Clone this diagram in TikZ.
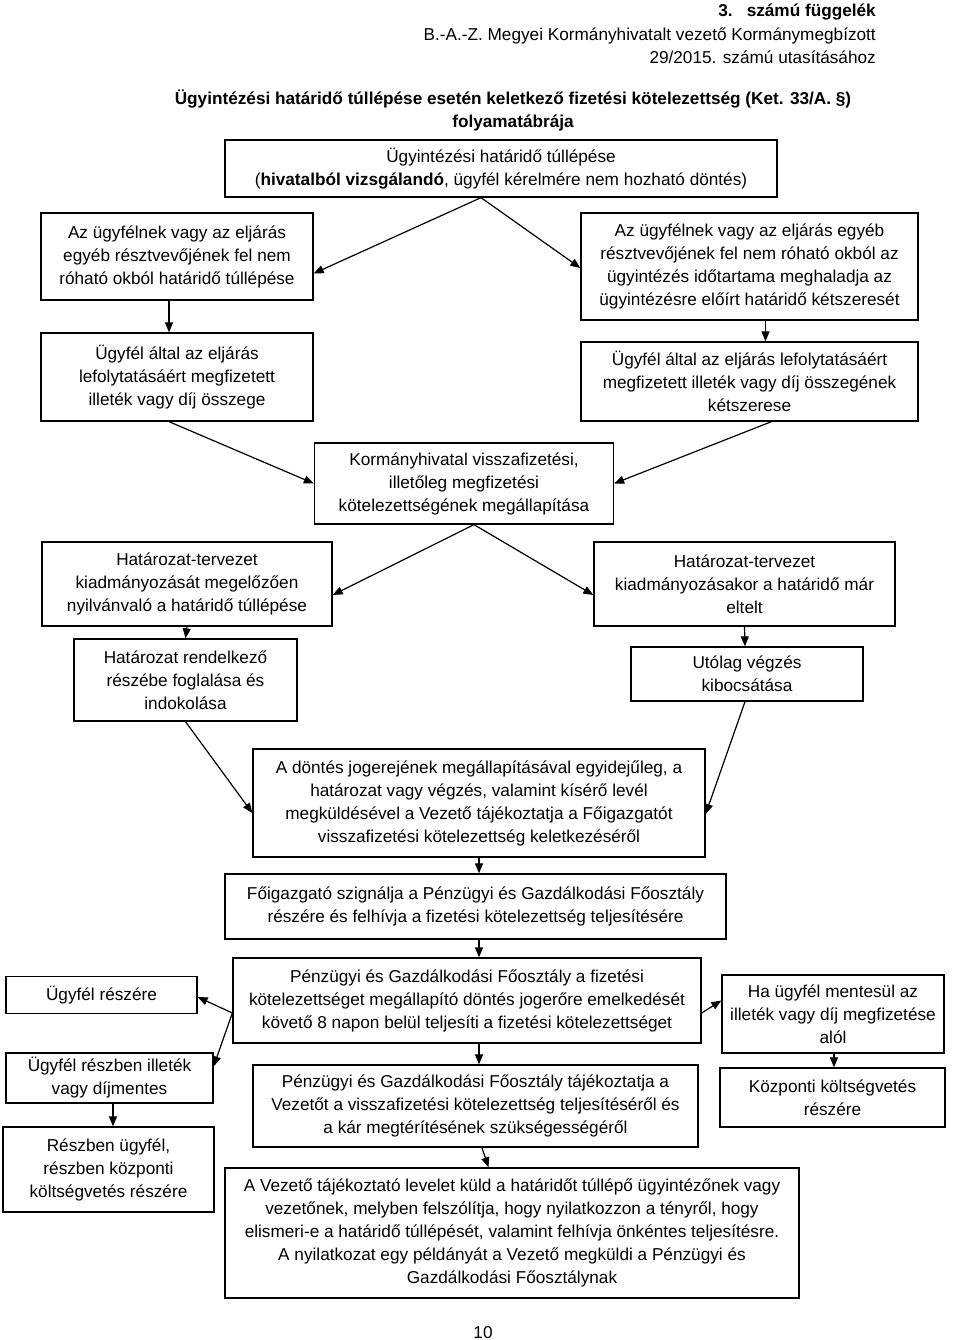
\documentclass[tikz,border=0pt]{standalone}
\usepackage{fontspec}
\setmainfont{Liberation Sans}
\usetikzlibrary{arrows.meta}
\begin{document}
\begin{tikzpicture}[x=1pt,y=-1pt,
  box/.style={draw=black,line width=1.3pt,rectangle,align=center,inner sep=0pt,
    font=\fontsize{17.2}{23}\selectfont},
  conn/.style={line width=1.2pt,-{Triangle[length=10pt,width=8pt]}},
  hdr/.style={inner sep=0pt,font=\fontsize{17.2}{23}\selectfont}]
\useasboundingbox (0,0) rectangle (960,1340);
% header
\node[hdr,anchor=base east,font=\fontsize{17.2}{23}\selectfont\bfseries] (h1) at (876,17) {3.\hspace{14pt}számú függelék};
\node[hdr,anchor=base east] (h2) at (876,41) {B.-A.-Z. Megyei Kormányhivatalt vezető Kormánymegbízott};
\node[hdr,anchor=base east] (h3) at (876,64) {29/2015. számú utasításához};
\node[hdr,anchor=base,font=\fontsize{17.2}{23}\selectfont\bfseries] (t1) at (513,105) {Ügyintézési határidő túllépése esetén keletkező fizetési kötelezettség (Ket. 33/A. §)};
\node[hdr,anchor=base,font=\fontsize{17.2}{23}\selectfont\bfseries] (t2) at (513,128) {folyamatábrája};
% boxes
\node[box,minimum width=552pt,minimum height=57pt] (T) at (501,168.5) {Ügyintézési határidő túllépése\\(\textbf{hivatalból vizsgálandó}, ügyfél kérelmére nem hozható döntés)};
\node[box,minimum width=272pt,minimum height=87pt] (L1) at (177,256.5) {Az ügyfélnek vagy az eljárás\\egyéb résztvevőjének fel nem\\róható okból határidő túllépése};
\node[box,minimum width=337pt,minimum height=107pt] (R1) at (749.5,266.5) {Az ügyfélnek vagy az eljárás egyéb\\résztvevőjének fel nem róható okból az\\ügyintézés időtartama meghaladja az\\ügyintézésre előírt határidő kétszeresét};
\node[box,minimum width=272pt,minimum height=88pt] (L2) at (177,377) {Ügyfél által az eljárás\\lefolytatásáért megfizetett\\illeték vagy díj összege};
\node[box,minimum width=337pt,minimum height=79pt] (R2) at (749.5,381.5) {Ügyfél által az eljárás lefolytatásáért\\megfizetett illeték vagy díj összegének\\kétszerese};
\node[box,minimum width=299pt,minimum height=81pt] (C) at (464,483.5) {Kormányhivatal visszafizetési,\\illetőleg megfizetési\\kötelezettségének megállapítása};
\node[box,minimum width=290pt,minimum height=84pt] (L3) at (187,584) {Határozat-tervezet\\kiadmányozását megelőzően\\nyilvánvaló a határidő túllépése};
\node[box,minimum width=301pt,minimum height=84pt] (R3) at (744.5,584) {Határozat-tervezet\\kiadmányozásakor a határidő már\\eltelt};
\node[box,minimum width=223pt,minimum height=82pt] (L4) at (185.5,680) {Határozat rendelkező\\részébe foglalása és\\indokolása};
\node[box,minimum width=232pt,minimum height=54pt] (R4) at (747,674) {Utólag végzés\\kibocsátása};
\node[box,minimum width=452pt,minimum height=108pt] (D) at (479,803) {A döntés jogerejének megállapításával egyidejűleg, a\\határozat vagy végzés, valamint kísérő levél\\megküldésével a Vezető tájékoztatja a Főigazgatót\\visszafizetési kötelezettség keletkezéséről};
\node[box,minimum width=501pt,minimum height=65pt] (E) at (475.5,906.5) {Főigazgató szignálja a Pénzügyi és Gazdálkodási Főosztály\\részére és felhívja a fizetési kötelezettség teljesítésére};
\node[box,minimum width=468pt,minimum height=85pt] (F) at (467,1000.5) {Pénzügyi és Gazdálkodási Főosztály a fizetési\\kötelezettséget megállapító döntés jogerőre emelkedését\\követő 8 napon belül teljesíti a fizetési kötelezettséget};
\node[box,minimum width=191pt,minimum height=37pt] (G1) at (101.5,995) {Ügyfél részére};
\node[box,minimum width=207pt,minimum height=50pt] (G2) at (109.5,1078) {Ügyfél részben illeték\\vagy díjmentes};
\node[box,minimum width=211pt,minimum height=85pt] (G3) at (108.5,1169.5) {Részben ügyfél,\\részben központi\\költségvetés részére};
\node[box,minimum width=222pt,minimum height=78pt] (H) at (833,1014) {Ha ügyfél mentesül az\\illeték vagy díj megfizetése\\alól};
\node[box,minimum width=225pt,minimum height=59pt] (I) at (832.5,1097.5) {Központi költségvetés\\részére};
\node[box,minimum width=445pt,minimum height=82pt] (J) at (475.5,1106) {Pénzügyi és Gazdálkodási Főosztály tájékoztatja a\\Vezetőt a visszafizetési kötelezettség teljesítéséről és\\a kár megtérítésének szükségességéről};
\node[box,minimum width=574pt,minimum height=130pt] (K) at (512,1233) {A Vezető tájékoztató levelet küld a határidőt túllépő ügyintézőnek vagy\\vezetőnek, melyben felszólítja, hogy nyilatkozzon a tényről, hogy\\elismeri-e a határidő túllépését, valamint felhívja önkéntes teljesítésre.\\A nyilatkozat egy példányát a Vezető megküldi a Pénzügyi és\\Gazdálkodási Főosztálynak};
\node[hdr] (pg) at (483,1333) {10};
% connectors
\coordinate (Tapex) at ([xshift=-20pt]T.south);
\draw[conn] (Tapex) -- ([yshift=-17pt]L1.east);
\draw[conn] (Tapex) -- ([yshift=-1.5pt]R1.west);
\draw[conn] ([xshift=-8pt]L1.south) -- ([xshift=-8pt]L2.north);
\draw[conn] ([xshift=16pt]R1.south) -- ([xshift=16pt]R2.north);
\draw[conn] ([xshift=-8pt]L2.south) -- (C.west);
\draw[conn] ([xshift=22pt]R2.south) -- (C.east);
\draw[conn] ([xshift=10pt]C.south) -- ([yshift=-11pt]L3.east);
\draw[conn] ([xshift=10pt]C.south) -- ([yshift=-11pt]R3.west);
\draw[conn] (L3.south) -- (L4.north);
\draw[conn] (R3.south) -- ([xshift=-2pt]R4.north);
\draw[conn] (L4.south) -- ([yshift=-10pt]D.west);
\draw[conn] ([xshift=-2pt]R4.south) -- ([yshift=-11pt]D.east);
\draw[conn] (D.south) -- ([xshift=3.5pt]E.north);
\draw[conn] ([xshift=3.5pt]E.south) -- ([xshift=12pt]F.north);
\coordinate (Fl) at ([yshift=-12.5pt]F.west);
\draw[conn] (Fl) -- ([yshift=-2pt]G1.east);
\draw[conn] (Fl) -- ([yshift=-14pt]G2.north east);
\draw[conn] ([xshift=3.5pt]G2.south) -- ([xshift=4.5pt]G3.north);
\draw[conn] ([yshift=-12.5pt]F.east) -- (F.east -| H.west);
\draw[conn] ([xshift=1pt]H.south) -- ([xshift=1.5pt]I.north);
\draw[conn] ([xshift=12pt]F.south) -- ([xshift=3.5pt]J.north);
\draw[conn] ([xshift=6.5pt]J.south) -- ([xshift=-23.5pt]K.north);
\end{tikzpicture}
\end{document}
